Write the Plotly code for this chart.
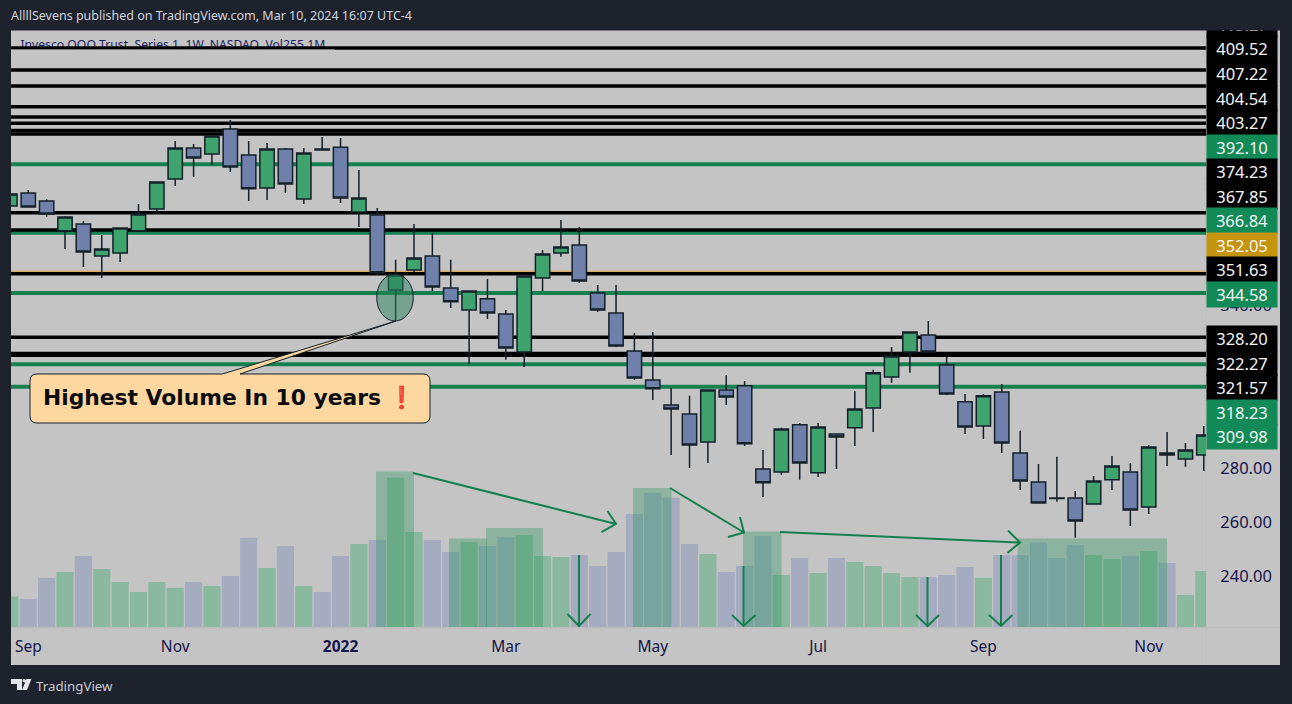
import pandas as pd
import plotly.graph_objects as go

# weekly candles, first one is the week of 2021-08-30
weeks = pd.date_range("2021-08-30", periods=66, freq="7D").strftime("%Y-%m-%d").tolist()

opens = [376.7, 381.5, 378.5, 367.5, 370.0, 358.2, 359.3, 367.5, 375.6, 386.6, 398.1, 395.9, 405.1, 395.5, 383.3, 397.7,
	379.3, 397.7, 398.4, 374.5, 373.4, 345.7, 353.1, 358.2, 346.4, 338.3, 342.4, 336.8, 322.8, 350.1, 359.3, 362.3,
	344.6, 337.2, 323.2, 312.5, 303.2, 299.9, 289.6, 308.8, 310.3, 279.6, 278.5, 295.9, 278.2, 292.5, 294.8, 302.1,
	313.6, 322.8, 329.1, 318.0, 304.4, 295.5, 308.0, 285.5, 274.8, 268.9, 268.9, 266.7, 275.6, 278.5, 265.6, 285.5,
	283.3, 284.8]
highs = [381.8, 382.6, 379.3, 373.0, 371.1, 366.0, 368.6, 377.4, 385.5, 400.7, 399.6, 402.9, 408.4, 400.7, 399.9, 398.1,
	398.1, 402.1, 401.8, 390.0, 375.9, 356.8, 370.0, 366.7, 356.8, 345.3, 349.7, 338.3, 350.8, 360.4, 371.5, 368.9,
	347.5, 347.5, 329.8, 330.2, 309.5, 306.6, 308.8, 314.3, 312.1, 286.6, 294.8, 296.6, 296.6, 292.5, 308.4, 316.2,
	324.6, 330.2, 334.2, 321.0, 307.3, 307.3, 311.0, 293.7, 281.5, 284.1, 271.5, 277.0, 284.4, 281.8, 288.5, 293.3,
	289.2, 295.5]
lows = [376.3, 376.1, 372.6, 360.8, 354.2, 350.1, 356.0, 367.1, 374.1, 384.1, 387.4, 391.8, 389.2, 378.5, 378.9, 381.5,
	377.4, 397.2, 377.8, 368.9, 351.2, 334.6, 352.3, 345.3, 339.0, 318.4, 335.0, 319.9, 317.3, 345.3, 357.9, 348.3,
	337.6, 324.6, 312.5, 305.1, 284.8, 280.0, 281.8, 303.2, 288.1, 269.3, 277.4, 275.6, 276.7, 279.6, 288.1, 293.3,
	311.4, 315.1, 322.4, 306.9, 292.5, 290.7, 285.5, 271.9, 267.1, 267.5, 254.2, 266.7, 271.9, 258.6, 263.0, 280.7,
	280.4, 278.9]
closes = [381.1, 376.3, 373.7, 372.6, 359.7, 360.8, 368.6, 373.7, 385.5, 398.1, 394.4, 402.5, 391.1, 383.0, 397.7, 384.8,
	396.2, 397.3, 379.6, 379.6, 352.0, 351.2, 357.5, 346.8, 341.3, 345.3, 337.2, 324.3, 350.8, 359.0, 361.5, 349.0,
	338.3, 325.0, 313.2, 309.2, 301.8, 288.5, 308.8, 306.2, 288.9, 274.5, 294.4, 281.8, 295.1, 291.4, 301.8, 315.1,
	321.3, 330.2, 322.8, 307.3, 295.1, 306.6, 289.2, 275.2, 267.1, 268.7, 260.4, 275.2, 280.7, 264.5, 287.7, 284.8,
	286.6, 292.2]

# volume in millions
volumes = [104, 95, 167, 187, 241, 197, 153, 119, 153, 133, 153, 139, 173, 303, 201, 275, 139, 119, 241, 282, 296, 507,
	323, 296, 255, 289, 275, 306, 313, 241, 238, 245, 207, 255, 384, 456, 439, 282, 248, 187, 207, 309, 177, 235, 184,
	235, 221, 207, 184, 170, 170, 177, 204, 167, 245, 245, 286, 235, 279, 245, 231, 241, 258, 218, 109, 190]

month_ticks = ["2021-09-06", "2021-11-01", "2022-01-03", "2022-03-07", "2022-05-02", "2022-07-04", "2022-09-05", "2022-11-07"]
month_labels = ["Sep", "Nov", "<b>2022</b>", "Mar", "May", "Jul", "Sep", "Nov"]
price_ticks = [240, 260, 280, 340]

black_levels = [435.0, 426.9, 421.0, 413.27, 409.52, 407.22, 404.54, 403.27, 374.23, 367.85, 351.63, 328.20, 322.27, 321.57]
green_levels = [392.10, 366.84, 344.58, 318.23, 309.98]
gold_levels = [352.05]

# stacked price tags on the axis, top to bottom
tag_texts = ["413.27", "409.52", "407.22", "404.54", "403.27", "392.10", "374.23", "367.85", "366.84", "352.05", "351.63",
	"344.58", "328.20", "322.27", "321.57", "318.23", "309.98"]
tag_kinds = ["black", "black", "black", "black", "black", "green", "black", "black", "green", "gold", "black",
	"green", "black", "black", "black", "green", "green"]
tag_rows = [24.5, 49, 73.5, 98, 122.5, 147, 171.5, 196, 220.5, 245, 269.5, 294, 338.5, 363, 387.5, 412, 436.5]
tag_colors = {"black": "#000000", "green": "#118a58", "gold": "#c4940f"}

W, H = 1292, 704
LEFT, RIGHT, TOP, BOTTOM = 11, 1206, 29, 627
GREEN = "#148050"
DARK = "#1e222d"
PANE = "#c4c4c4"


def px(x):
	return (x - LEFT) / (RIGHT - LEFT)


def py(y):
	return (BOTTOM - y) / (BOTTOM - TOP)


def path(points):
	return "M" + " L".join(f"{px(x):.5f},{py(y):.5f}" for x, y in points)


def paper_shape(**kw):
	return dict(xref="paper", yref="paper", **kw)


def rect(x0, x1, y0, y1, kind="rect", **kw):
	return paper_shape(type=kind, x0=px(x0), x1=px(x1), y0=py(y0), y1=py(y1), **kw)


fig = go.Figure()

bar_colors = ["rgba(82,174,122,0.5)" if c >= o else "rgba(134,148,188,0.5)" for o, c in zip(opens, closes)]
fig.add_bar(x=weeks, y=volumes, yaxis="y2", marker=dict(color=bar_colors, line_width=0), hoverinfo="skip")

fig.add_candlestick(
	x=weeks, open=opens, high=highs, low=lows, close=closes,
	increasing=dict(fillcolor="#3fa36e", line=dict(color="#14202a", width=1.5)),
	decreasing=dict(fillcolor="#6f80ab", line=dict(color="#14202a", width=1.5)),
)

# symbol line sits under the top level line, so it has to be a trace and not an annotation
fig.add_scatter(
	x=["2021-09-03"], y=[435.8], mode="text", text=["Invesco QQQ Trust, Series 1, 1W, NASDAQ  Vol255.1M"],
	textposition="middle right", textfont=dict(family="Noto Sans", size=12.2, color="#1c1c60"), hoverinfo="skip",
)

shapes = [rect(LEFT, 1280, TOP, 665, fillcolor=PANE, line_width=0, layer="below")]
shapes.append(rect(RIGHT - 0.5, RIGHT + 0.5, TOP, 665, fillcolor="#bcbcbc", line_width=0, layer="below"))
shapes.append(rect(LEFT, 1280, BOTTOM, BOTTOM + 1.5, fillcolor="#bcbcbc", line_width=0, layer="below"))

for p in gold_levels:
	shapes.append(dict(type="line", xref="paper", yref="y", x0=0, x1=1, y0=p, y1=p, line=dict(color="#dcb06a", width=4.5), layer="below"))
for p in green_levels:
	shapes.append(dict(type="line", xref="paper", yref="y", x0=0, x1=1, y0=p, y1=p, line=dict(color=GREEN, width=4), layer="below"))
for p in black_levels:
	on_top = p == black_levels[0]
	shapes.append(dict(type="line", xref="paper", yref="y", x0=0, x1=1, y0=p, y1=p, line=dict(color="#000000", width=3.5),
		layer="above" if on_top else "below"))
shapes.append(rect(LEFT, 335, 49.5, 56, fillcolor=PANE, line_width=0, layer="above"))

# highlighted volume zones
for x0, x1, top in [(376, 414, 471.5), (449, 487, 538.5), (486, 543, 528), (633, 671.5, 488), (743, 781.5, 531.5), (1017.5, 1167, 538.5)]:
	shapes.append(rect(x0, x1, top, BOTTOM, fillcolor="rgba(40,150,95,0.36)", line_width=0, layer="above"))

# hand drawn arrows
arrows = [
	[(413, 473), (616, 524)], [(607.5, 511), (616, 524), (601.5, 532)],
	[(670, 488), (744, 532.5)], [(740, 517), (744, 532.5), (728, 537)],
	[(780, 532), (1020, 542.5)], [(1008, 530.5), (1020, 542.5), (1007.5, 553)],
	[(579, 555), (579, 626)], [(567.5, 614), (579, 626), (590.5, 614)],
	[(743.5, 566), (743.5, 626)], [(732, 615), (743.5, 626), (755.5, 615)],
	[(927.5, 577), (927.5, 626)], [(916, 615), (927.5, 626), (939, 615)],
	[(1001, 555), (1001, 626)], [(989, 615), (1001, 626), (1012.5, 615)],
]
for pts in arrows:
	shapes.append(paper_shape(type="path", path=path(pts), line=dict(color=GREEN, width=2), layer="above"))

shapes.append(rect(376.7, 413.3, 274, 321, kind="circle", fillcolor="rgba(40,130,90,0.5)", line=dict(color="#14202a", width=1), layer="above"))

# callout box with its tail going up to the ellipse
c = lambda x, y: f"{px(x):.5f},{py(y):.5f}"
callout = (f"M{c(37, 374)} L{c(222.5, 374)} L{c(396, 321)} L{c(240, 374)} L{c(423, 374)} Q{c(430, 374)} {c(430, 381)} "
	f"L{c(430, 416)} Q{c(430, 423)} {c(423, 423)} L{c(37, 423)} Q{c(30, 423)} {c(30, 416)} L{c(30, 381)} Q{c(30, 374)} {c(37, 374)} Z")
shapes.append(paper_shape(type="path", path=callout, fillcolor="#fcd8a0", line=dict(color="#14202a", width=1), layer="above"))

# TradingView logo
logo = [[(11, 679), (22, 679), (22, 690), (17, 690), (17, 684), (11, 684)], [(26.5, 679), (31.5, 679), (27, 690), (22, 690)]]
for pts in logo:
	shapes.append(paper_shape(type="path", path=path(pts) + " Z", fillcolor="#e4e6ec", line_width=0))
shapes.append(rect(22.5, 26, 679, 682.5, kind="circle", fillcolor="#e4e6ec", line_width=0))

notes = []
for text, kind, row in zip(tag_texts, tag_kinds, tag_rows):
	notes.append(dict(
		text=text, xref="paper", yref="paper", x=px(RIGHT), y=py(row), xanchor="left", yanchor="middle", showarrow=False,
		width=70, height=24.5, bgcolor=tag_colors[kind], align="center", borderpad=0,
		font=dict(family="Noto Sans", size=16.5, color="#f4f4f4"),
	))
# strip on top of the page hides the clipped first tag, header goes over it
notes.append(dict(
	text=" ", xref="paper", yref="paper", x=px(0), y=py(0), xanchor="left", yanchor="top", showarrow=False,
	width=W, height=TOP, bgcolor=DARK, borderpad=0,
))
notes.append(dict(
	text="AllllSevens published on TradingView.com, Mar 10, 2024 16:07 UTC-4", xref="paper", yref="paper",
	x=px(9), y=py(16), xanchor="left", yanchor="middle", showarrow=False,
	font=dict(family="Noto Sans", size=12.5, color="#d1d4dc"),
))
notes.append(dict(
	text="TradingView", xref="paper", yref="paper", x=px(34), y=py(686), xanchor="left", yanchor="middle", showarrow=False,
	font=dict(family="Noto Sans", size=13.3, color="#c8cad2"),
))
notes.append(dict(
	text='Highest Volume In 10 years <span style="color:#f03a3a">❗</span>', xref="paper", yref="paper", x=px(41), y=py(398),
	xanchor="left", yanchor="middle", showarrow=False, font=dict(family="DejaVu Sans", size=21.8, color="#0c0c10", weight="bold"),
))

fig.update_layout(
	width=W, height=H, margin=dict(l=LEFT, r=W - RIGHT, t=TOP, b=H - BOTTOM),
	paper_bgcolor=DARK, plot_bgcolor=PANE, showlegend=False, barmode="overlay", bargap=0.07, boxgap=0.22, boxgroupgap=0,
	shapes=shapes, annotations=notes,
	xaxis=dict(
		type="date", range=["2021-08-30 10:00", "2022-11-28 20:00"], rangeslider_visible=False,
		tickmode="array", tickvals=month_ticks, ticktext=month_labels, ticks="outside", ticklen=5, tickcolor="rgba(0,0,0,0)",
		tickfont=dict(family="Noto Sans", size=15.5, color="#14144a"), showgrid=False, zeroline=False,
	),
	yaxis=dict(
		side="right", range=[221.3, 442.0], tickmode="array", tickvals=price_ticks, tickformat=".2f", ticks="outside", ticklen=10,
		tickcolor="rgba(0,0,0,0)", tickfont=dict(family="Noto Sans", size=16.5, color="#14144a"), showgrid=False, zeroline=False,
	),
	yaxis2=dict(overlaying="y", range=[0, 2033], visible=False),
)

fig.write_html("out.html", config={"displayModeBar": False},
	post_script="document.body.style.margin='0';document.body.style.background='#1e222d';")
